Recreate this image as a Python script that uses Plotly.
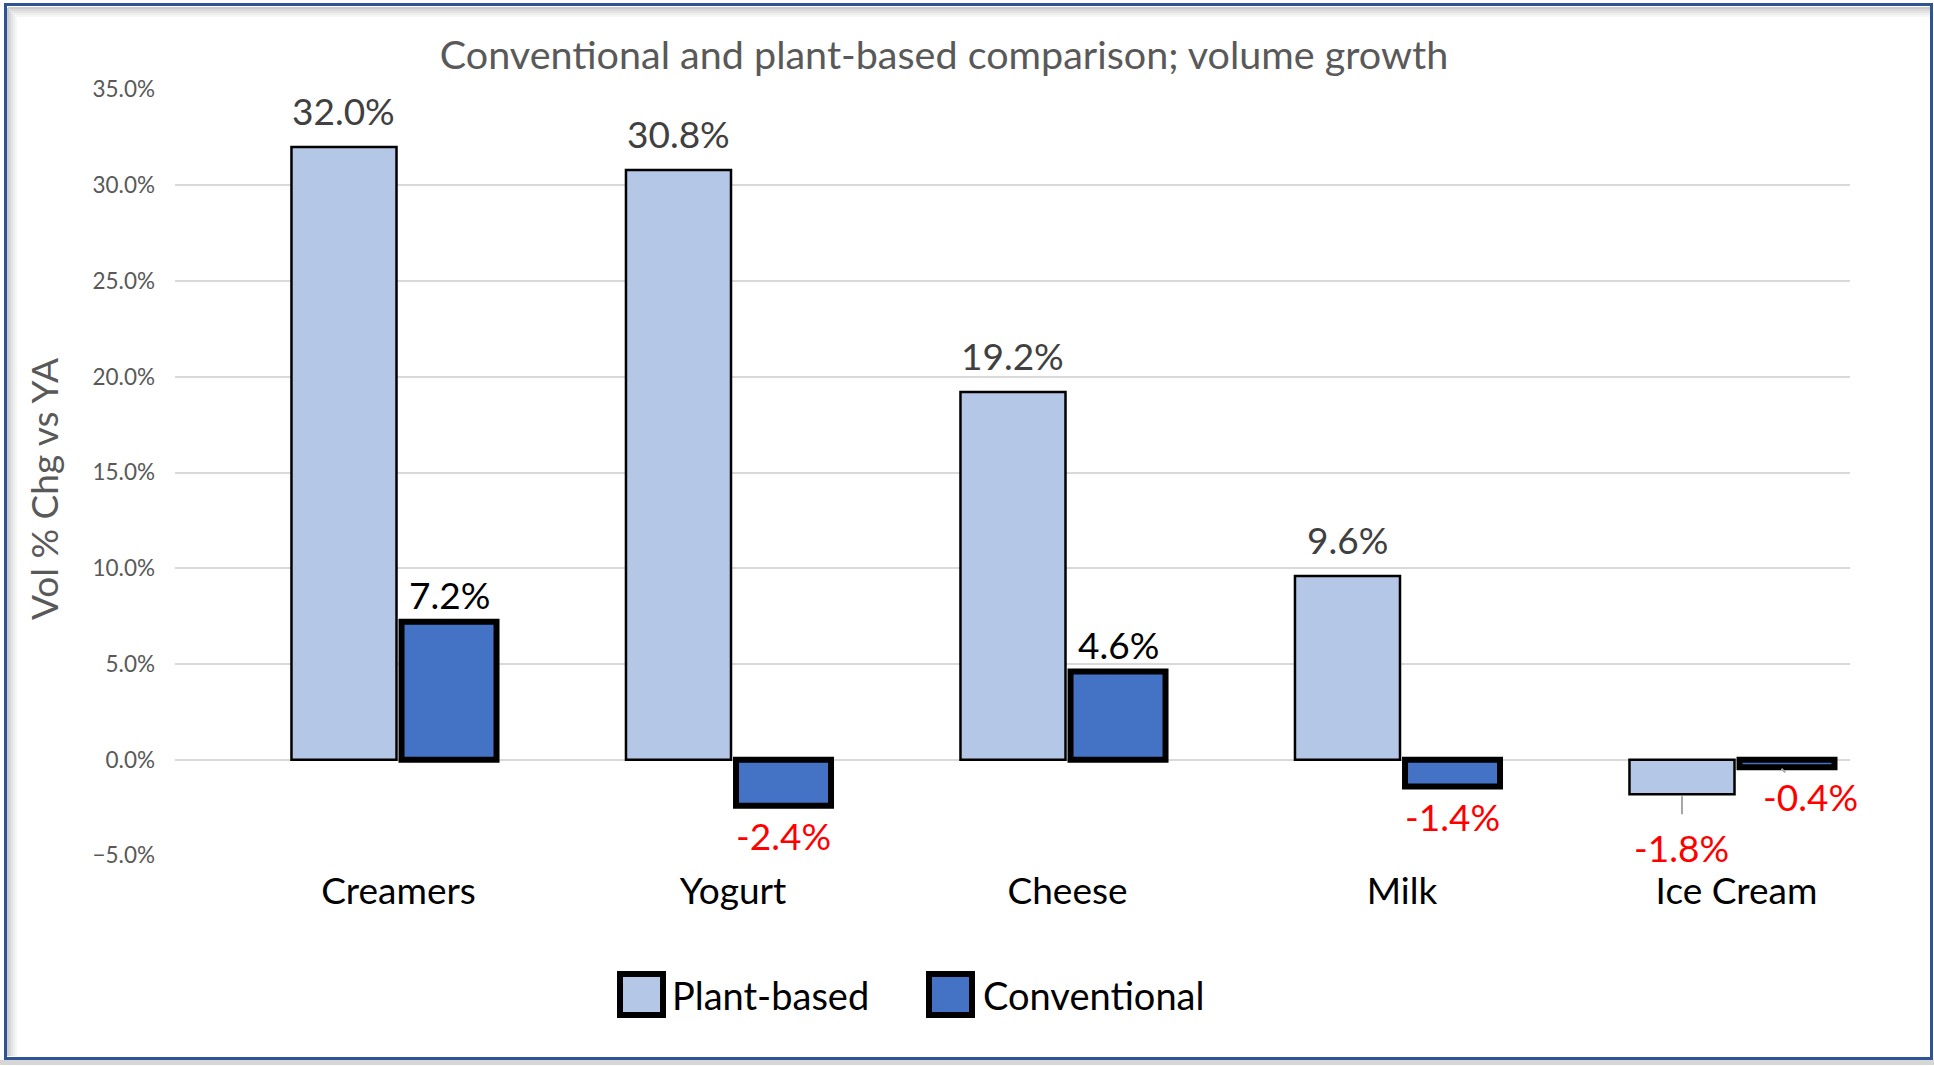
import plotly.graph_objects as go

# ---- data -------------------------------------------------------------
categories = ["Creamers", "Yogurt", "Cheese", "Milk", "Ice Cream"]
plant_based = [0.320, 0.308, 0.192, 0.096, -0.018]
conventional = [0.072, -0.024, 0.046, -0.014, -0.004]
series_names = ["Plant-based", "Conventional"]
y_tick_values = [-0.05, 0.0, 0.05, 0.10, 0.15, 0.20, 0.25, 0.30, 0.35]
chart_title = "Conventional and plant-based comparison; volume growth"
y_axis_title = "Vol % Chg vs YA"

# ---- canvas / plot-area geometry (pixels) -------------------------------
W, H = 1934, 1066
L, R, T, B = 175, 84, 89, 210
PW = W - L - R
PH = H - T - B
X_RANGE = [-0.6682, 4.3393]
Y_RANGE = [-0.0503, 0.3503]
PX_PER_CAT = PW / (X_RANGE[1] - X_RANGE[0])

FONT = "Lato"
GREY_TEXT = "#595959"
LABEL_GREY = "#404040"
NEG_RED = "#FF0000"


def paper_x(px):
    return (px - L) / PW


def paper_y(py):
    return (H - B - py) / PH


# bar styling per series
styles = [
    dict(fill="#B4C7E7", line=2.5, offset=-0.320, width=0.314, pos_color=LABEL_GREY, pos_shift=12),
    dict(fill="#4472C4", line=6, offset=0.009, width=0.284, pos_color="black", pos_shift=3),
]
series_values = [plant_based, conventional]

fig = go.Figure()
for name, vals, st in zip(series_names, series_values, styles):
    fig.add_trace(go.Bar(
        x=categories, y=vals, name=name,
        offset=st["offset"], width=st["width"],
        marker=dict(color=st["fill"], line=dict(color="black", width=st["line"])),
        showlegend=False, hoverinfo="skip",
    ))

# ---- value labels -------------------------------------------------------
# callouts that sit away from their bar, with a short grey leader line
callouts = {
    ("Plant-based", "Ice Cream"): dict(dx=0, ax=0, ay=53, startstandoff=9),
    ("Conventional", "Ice Cream"): dict(dx=-7, ax=30, ay=29, startstandoff=0),
}

annotations = []
for name, vals, st in zip(series_names, series_values, styles):
    center_shift = (st["offset"] + st["width"] / 2) * PX_PER_CAT
    for cat, v in zip(categories, vals):
        text = f"{v * 100:.1f}%"
        color = st["pos_color"] if v >= 0 else NEG_RED
        key = (name, cat)
        if key in callouts:
            c = callouts[key]
            annotations.append(dict(
                x=cat, y=v, xref="x", yref="y", text=text,
                xshift=center_shift + c["dx"],
                showarrow=True, arrowhead=0, arrowwidth=2, arrowcolor="#A6A6A6",
                ax=c["ax"], ay=c["ay"], standoff=2, startstandoff=c["startstandoff"],
                font=dict(family=FONT, size=37, color=color),
            ))
        elif v >= 0:
            annotations.append(dict(
                x=cat, y=v, xref="x", yref="y", text=text, showarrow=False,
                xshift=center_shift, yshift=st["pos_shift"], yanchor="bottom",
                font=dict(family=FONT, size=37, color=color),
            ))
        else:
            annotations.append(dict(
                x=cat, y=v, xref="x", yref="y", text=text, showarrow=False,
                xshift=center_shift, yshift=-5, yanchor="top",
                font=dict(family=FONT, size=37, color=color),
            ))

# y-axis title
annotations.append(dict(
    x=paper_x(43), y=paper_y(489), xref="paper", yref="paper",
    text=y_axis_title, textangle=-90, showarrow=False,
    xanchor="center", yanchor="middle",
    font=dict(family=FONT, size=37, color=GREY_TEXT),
))

# ---- legend (large framed swatches) ------------------------------------
shapes = []
legend_items = [
    dict(x0=620, x1=663, text_x=670),
    dict(x0=929, x1=972, text_x=981),
]
for name, st, item in zip(series_names, styles, legend_items):
    shapes.append(dict(
        type="rect", xref="paper", yref="paper",
        x0=paper_x(item["x0"]), x1=paper_x(item["x1"]),
        y0=paper_y(1015), y1=paper_y(974),
        fillcolor=st["fill"], line=dict(color="black", width=6), layer="above",
    ))
    annotations.append(dict(
        x=paper_x(item["text_x"]), y=paper_y(995), xref="paper", yref="paper",
        text=name, showarrow=False, xanchor="left", yanchor="middle",
        font=dict(family=FONT, size=38, color="black"),
    ))

# ---- chart frame: soft inner shadow and blue border -------------------
for i, col in enumerate(["#cccccc", "#d9d9d9", "#e4e4e4", "#eeeeee", "#f6f6f6"]):
    off = 8 + 2 * i
    shapes.append(dict(type="line", xref="paper", yref="paper",
                       x0=paper_x(off), x1=paper_x(1930), y0=paper_y(off), y1=paper_y(off),
                       line=dict(color=col, width=2), layer="below"))
    shapes.append(dict(type="line", xref="paper", yref="paper",
                       x0=paper_x(off), x1=paper_x(off), y0=paper_y(off), y1=paper_y(1056),
                       line=dict(color=col, width=2), layer="below"))
shapes.append(dict(type="line", xref="paper", yref="paper",
                   x0=paper_x(0), x1=paper_x(1934), y0=paper_y(1062.5), y1=paper_y(1062.5),
                   line=dict(color="#d6d6d6", width=5), layer="below"))
shapes.append(dict(type="rect", xref="paper", yref="paper",
                   x0=paper_x(5.5), x1=paper_x(1931.5), y0=paper_y(1058.5), y1=paper_y(4.5),
                   line=dict(color="#2F5496", width=3), fillcolor="rgba(0,0,0,0)", layer="below"))

fig.update_layout(
    width=W, height=H,
    margin=dict(l=L, r=R, t=T, b=B, pad=0),
    paper_bgcolor="white", plot_bgcolor="white",
    barmode="overlay",
    showlegend=False,
    title=dict(text=chart_title, x=944 / W, xref="container", xanchor="center",
               y=1 - 55.5 / H, yref="container", yanchor="middle",
               font=dict(family=FONT, size=39.5, color=GREY_TEXT)),
    xaxis=dict(
        type="category", range=X_RANGE, showgrid=False, zeroline=False, showline=False,
        ticks="", ticklabelstandoff=10,
        tickfont=dict(family=FONT, size=37, color="black"),
        fixedrange=True,
    ),
    yaxis=dict(
        range=Y_RANGE, tickvals=y_tick_values, tickformat=".1%",
        showgrid=True, gridcolor="#D9D9D9", gridwidth=2,
        zeroline=False, showline=False, ticks="", ticklabelstandoff=19,
        tickfont=dict(family=FONT, size=22.5, color=GREY_TEXT),
        fixedrange=True,
    ),
    annotations=annotations,
    shapes=shapes,
)

fig.write_html("out.html", config={"displayModeBar": False})
